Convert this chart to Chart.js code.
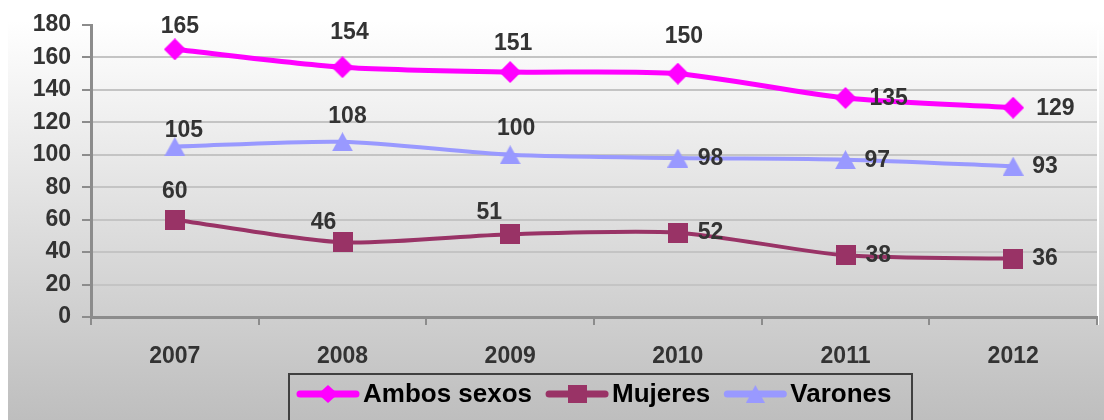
<!DOCTYPE html>
<html>
<head>
    <title>Ambos sexos, Mujeres, Varones 2007-2012</title>
    <style>
        html, body {
            margin: 0;
            padding: 0;
            overflow: hidden;
            background: #fff;
        }
        canvas {
            display: block;
        }
    </style>
    <script src="https://cdn.jsdelivr.net/npm/chart.js@4"></script>
</head>
<body>
    <canvas id="chart" width="1104" height="420"></canvas>

    <script>
        // data
        const years = ['2007', '2008', '2009', '2010', '2011', '2012'];
        const ambosSexos = [165, 154, 151, 150, 135, 129];
        const mujeres = [60, 46, 51, 52, 38, 36];
        const varones = [105, 108, 100, 98, 97, 93];
        const yMin = 0;
        const yMax = 180;
        const yStep = 20;

        // where each value label sits relative to its point
        const ambosLabelPos = [
            { dx: 5, dy: -23 }, { dx: 7, dy: -35 }, { dx: 3, dy: -28 },
            { dx: 6, dy: -37 }, { dx: 24, dy: 1, right: true }, { dx: 23, dy: 1, right: true }
        ];
        const mujeresLabelPos = [
            { dx: 0, dy: -28 }, { dx: -19, dy: -20 }, { dx: -21, dy: -22 },
            { dx: 20, dy: 0, right: true }, { dx: 20, dy: 0, right: true }, { dx: 19, dy: 0, right: true }
        ];
        const varonesLabelPos = [
            { dx: 9, dy: -16 }, { dx: 5, dy: -25 }, { dx: 6, dy: -26 },
            { dx: 20, dy: 1, right: true }, { dx: 19, dy: 1, right: true }, { dx: 19, dy: 1, right: true }
        ];

        const FONT = "Arial, 'Liberation Sans', sans-serif";
        const TEXT = '#333333';
        const AXIS = '#8c8c8c';

        // marker images, centred on their bounding box
        function makeMarker(shape, color, w, h) {
            const c = document.createElement('canvas');
            c.width = w;
            c.height = h;
            const g = c.getContext('2d');
            g.fillStyle = color;
            g.beginPath();
            if (shape === 'diamond') {
                g.moveTo(w / 2, 0);
                g.lineTo(w, h / 2);
                g.lineTo(w / 2, h);
                g.lineTo(0, h / 2);
            } else if (shape === 'triangle') {
                g.moveTo(w / 2, 0);
                g.lineTo(w, h);
                g.lineTo(0, h);
            } else {
                g.rect(0, 0, w, h);
            }
            g.closePath();
            g.fill();
            return c;
        }

        const series = [
            { label: 'Ambos sexos', data: ambosSexos, color: '#ff00ff', width: 5, shape: 'diamond', mw: 22, mh: 22, pos: ambosLabelPos },
            { label: 'Mujeres', data: mujeres, color: '#993366', width: 4, shape: 'square', mw: 20, mh: 20, pos: mujeresLabelPos },
            { label: 'Varones', data: varones, color: '#9999ff', width: 4, shape: 'triangle', mw: 21, mh: 19, pos: varonesLabelPos }
        ];

        const backgroundPlugin = {
            id: 'background',
            beforeDraw(chart) {
                const ctx = chart.ctx;
                const grad = ctx.createLinearGradient(0, 0, 0, chart.height);
                grad.addColorStop(0, '#ffffff');
                grad.addColorStop(0.05, '#ffffff');
                grad.addColorStop(1, '#bebebe');
                ctx.save();
                ctx.fillStyle = '#ffffff';
                ctx.fillRect(0, 0, chart.width, chart.height);
                ctx.fillStyle = grad;
                ctx.fillRect(8, 0, chart.width - 8, chart.height);
                // light edge on the right of the plot area
                const a = chart.chartArea;
                ctx.strokeStyle = '#ffffff';
                ctx.lineWidth = 2;
                ctx.beginPath();
                ctx.moveTo(a.right + 1, a.top + 5);
                ctx.lineTo(a.right + 1, a.bottom + 8);
                ctx.stroke();
                ctx.restore();
            }
        };

        const valueLabelPlugin = {
            id: 'valueLabels',
            afterDatasetsDraw(chart) {
                const ctx = chart.ctx;
                ctx.save();
                ctx.font = 'bold 23px ' + FONT;
                ctx.fillStyle = TEXT;
                ctx.textBaseline = 'middle';
                chart.data.datasets.forEach((ds, di) => {
                    const meta = chart.getDatasetMeta(di);
                    meta.data.forEach((pt, i) => {
                        const p = ds.labelPos[i];
                        ctx.textAlign = p.right ? 'left' : 'center';
                        ctx.fillText(String(ds.data[i]), pt.x + p.dx, pt.y + p.dy);
                    });
                });
                ctx.restore();
            }
        };

        const legendPlugin = {
            id: 'boxLegend',
            afterDraw(chart) {
                const ctx = chart.ctx;
                ctx.save();
                ctx.strokeStyle = '#404040';
                ctx.lineWidth = 2;
                ctx.strokeRect(289, 374, 623, 60);

                ctx.font = 'bold 26px ' + FONT;
                ctx.textBaseline = 'middle';
                ctx.textAlign = 'left';
                const y = 394;
                let x = 297;
                series.forEach(s => {
                    ctx.strokeStyle = s.color;
                    ctx.lineWidth = 7;
                    ctx.lineCap = 'round';
                    ctx.beginPath();
                    ctx.moveTo(x + 3, y);
                    ctx.lineTo(x + 59, y);
                    ctx.stroke();
                    const m = makeMarker(s.shape, s.color, s.shape === 'diamond' ? 20 : 19, 18);
                    ctx.drawImage(m, x + 31 - m.width / 2, y - m.height / 2);
                    ctx.fillStyle = '#000000';
                    ctx.fillText(s.label, x + 66, y + 1);
                    x += 66 + ctx.measureText(s.label).width + 14;
                });
                ctx.restore();
            }
        };

        new Chart(document.getElementById('chart'), {
            type: 'line',
            data: {
                labels: years,
                datasets: series.map(s => ({
                    label: s.label,
                    data: s.data,
                    labelPos: s.pos,
                    borderColor: s.color,
                    backgroundColor: s.color,
                    borderWidth: s.width,
                    tension: 0.25,
                    pointStyle: makeMarker(s.shape, s.color, s.mw, s.mh),
                    pointRadius: 11,
                    fill: false
                }))
            },
            options: {
                responsive: false,
                animation: false,
                layout: {
                    autoPadding: false,
                    padding: { left: 0, right: 7, top: 25, bottom: 0 }
                },
                plugins: {
                    legend: { display: false },
                    tooltip: { enabled: false }
                },
                scales: {
                    x: {
                        offset: true,
                        grid: {
                            offset: true,
                            drawOnChartArea: false,
                            tickLength: 8,
                            tickColor: AXIS,
                            lineWidth: 2
                        },
                        border: { color: AXIS, width: 3 },
                        ticks: {
                            color: TEXT,
                            padding: 18,
                            font: { family: FONT, size: 23, weight: 'bold' }
                        },
                        afterFit(scale) {
                            scale.height = 103;
                            scale.paddingLeft = 0;
                            scale.paddingRight = 0;
                        }
                    },
                    y: {
                        min: yMin,
                        max: yMax,
                        grid: {
                            color: c => (c.tick && c.tick.value === yMax) ? 'rgba(0,0,0,0)' : '#c4c4c4',
                            tickColor: AXIS,
                            tickLength: 9,
                            lineWidth: 2
                        },
                        border: { color: AXIS, width: 3 },
                        ticks: {
                            stepSize: yStep,
                            color: TEXT,
                            padding: 11,
                            font: { family: FONT, size: 23, weight: 'bold' }
                        },
                        afterFit(scale) { scale.width = 91; }
                    }
                }
            },
            plugins: [backgroundPlugin, valueLabelPlugin, legendPlugin]
        });
    </script>
</body>
</html>
